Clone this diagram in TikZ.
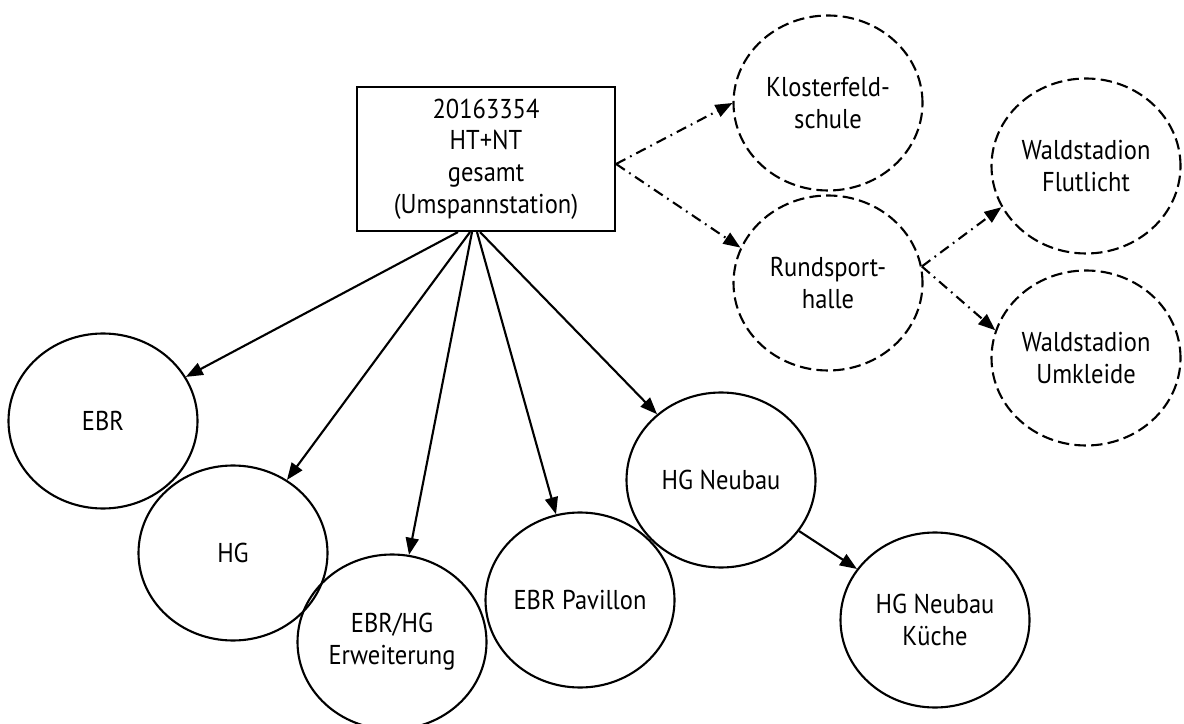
\documentclass[tikz,border=0pt]{standalone}
\usepackage{fontspec}
\setmainfont{PT Sans}[FakeStretch=0.9]
\usetikzlibrary{shapes.geometric}
\usetikzlibrary{arrows.meta}

\begin{document}
\begin{tikzpicture}[
	font=\fontsize{15.5}{18}\selectfont,
	stelle/.style={ellipse,draw,line width=1.2pt,minimum width=3.78cm,minimum height=3.5cm,inner sep=0pt,align=center},
	extern/.style={stelle,dash pattern=on 6.5pt off 3pt},
	zaehler/.style={draw,line width=1.2pt,minimum width=5.16cm,minimum height=2.88cm,align=center},
	pfeil/.style={line width=1.2pt,-{Triangle[length=3.4mm,width=2.6mm]}},
	strichpunkt/.style={pfeil,dash pattern=on 6pt off 3pt on 1pt off 3pt}]
	\useasboundingbox (0,0) rectangle (23.68,14.46);
	%		\draw [thin,densely dashed](0,0)grid(23,14);
	\node[zaehler] (ges) at (9.72,11.28) {20163354\\HT+NT\\gesamt\\(Umspannstation)};
	
	\node[extern] (klost) at (16.56,12.40) {Klosterfeld-\\schule};
	\node[extern] (rund)  at (16.56,8.80) {Rundsport-\\halle};
	\node[extern] (flut)  at (21.72,11.14) {Waldstadion\\Flutlicht};
	\node[extern] (umk)   at (21.72,7.30) {Waldstadion\\Umkleide};
	
	\node[stelle] (ebr) at (2.06,6.04) {EBR};
	\node[stelle] (hg)  at (4.66,3.40) {HG};
	\node[stelle] (erw) at (7.84,1.62) {EBR/HG\\Erweiterung};
	\node[stelle] (pav) at (11.60,2.46) {EBR Pavillon};
	\node[stelle] (neu) at (14.42,4.86) {HG Neubau};
	\node[stelle] (kue) at (18.70,2.06) {HG Neubau\\Küche};
	
	\draw[pfeil] ([xshift=-5.6mm]ges.south) -- (ebr);
	\draw[pfeil] ([xshift=-3.2mm]ges.south) -- (hg);
	\draw[pfeil] ([xshift=-2.8mm]ges.south) -- (erw);
	\draw[pfeil] ([xshift=-1.8mm]ges.south) -- (pav);
	\draw[pfeil] ([xshift=-1.2mm]ges.south) -- (neu);
	\draw[pfeil] (neu) -- (kue);
	
	\draw[strichpunkt] ([yshift=-1mm]ges.east) -- (klost.west);
	\draw[strichpunkt] ([yshift=-1mm]ges.east) -- (rund.158);
	\draw[strichpunkt] (rund.10) -- (flut.206);
	\draw[strichpunkt] (rund.10) -- (umk.163);
	
\end{tikzpicture}
\end{document}
